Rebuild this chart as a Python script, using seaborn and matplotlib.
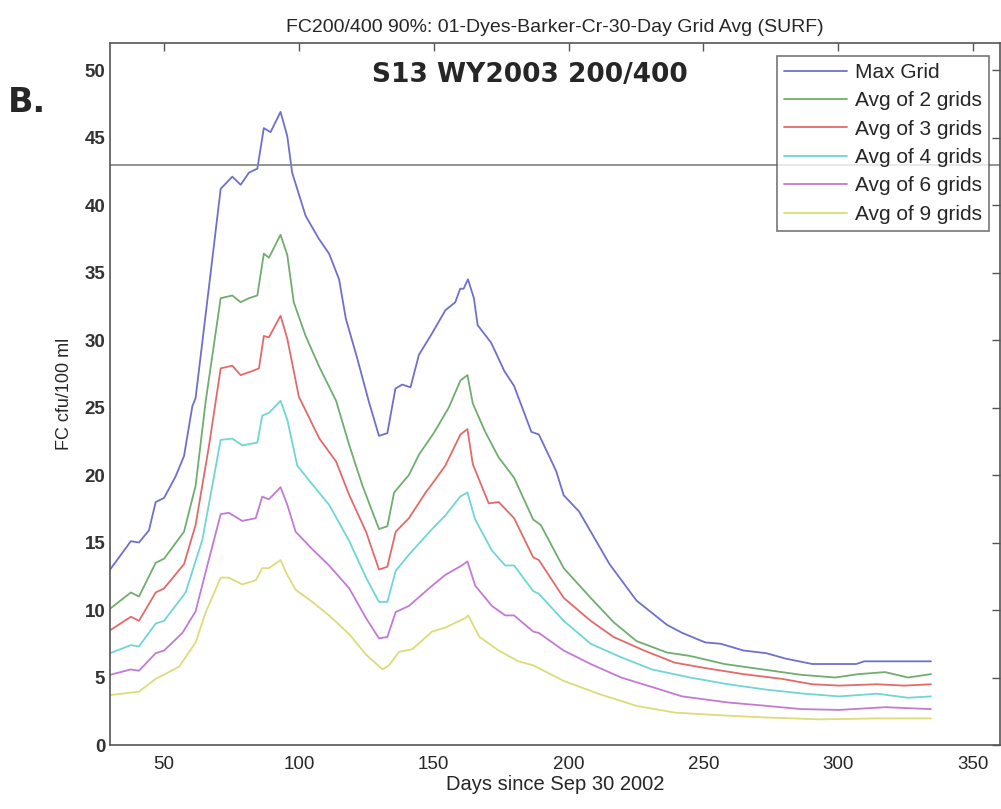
import matplotlib
matplotlib.use("Agg")
import matplotlib.pyplot as plt
import seaborn as sns
import pandas as pd

# --- data -------------------------------------------------------------------
SERIES = ["Max Grid", "Avg of 2 grids", "Avg of 3 grids",
          "Avg of 4 grids", "Avg of 6 grids", "Avg of 9 grids"]
COLORS = ["#6f6fcf", "#6fae6f", "#e46a6a", "#6fd6d6", "#c27ad6", "#dcdc78"]
THRESHOLD = 43

max_days = [30, 37.7, 40.7, 44.4, 46.9, 50, 54.3, 57.4, 60.5, 61.7, 66.7, 71, 75.3, 78.4,
            81.5, 84.6, 87, 89.5, 93.2, 95.7, 97.5, 102.5, 107.4, 111.2, 114.9, 117.4,
            121.7, 126, 129.7, 132.8, 135.8, 138.3, 141.4, 144.5, 149.4, 154.3, 158,
            159.8, 161.1, 162.7, 164.9, 166.3, 171.3, 176.2, 179.8, 186.2, 189, 195.4,
            198.2, 203.9, 215.2, 225.2, 236.5, 242.2, 250.7, 256.4, 264.9, 273.4,
            280.5, 290.4, 294.7, 306.7, 309.6, 334.4]
max_vals = [13.0, 15.1, 15.0, 15.9, 18.0, 18.3, 19.9, 21.4, 25.1, 25.7, 34.0, 41.2, 42.1,
            41.5, 42.4, 42.7, 45.7, 45.4, 46.9, 45.1, 42.4, 39.2, 37.5, 36.4, 34.5, 31.6,
            28.6, 25.4, 22.9, 23.1, 26.4, 26.7, 26.5, 28.9, 30.5, 32.2, 32.8, 33.8, 33.8,
            34.5, 33.1, 31.1, 29.8, 27.7, 26.6, 23.2, 23.0, 20.3, 18.5, 17.3, 13.4, 10.7,
            8.9, 8.3, 7.6, 7.5, 7.0, 6.8, 6.4, 6.0, 6.0, 6.0, 6.2, 6.2]

avg2_days = [30, 37.7, 40.7, 46.9, 50, 57.4, 61.7, 65.4, 71, 75.3, 78.4, 81.5, 84.6, 87,
             88.9, 93.2, 95.7, 98.1, 102.5, 107.6, 113.8, 118.7, 123.6, 129.7, 132.8,
             135.3, 140.8, 144.5, 150, 155.6, 159.9, 162.5, 164.5, 169.1, 174.1, 179.8,
             186.9, 189.7, 198.2, 208.2, 216.7, 225.2, 236.5, 245, 257.8, 272, 286.2,
             298.9, 307.4, 317.4, 325.9, 334.4]
avg2_vals = [10.1, 11.3, 11.0, 13.5, 13.8, 15.8, 19.2, 25.4, 33.1, 33.3, 32.8, 33.1, 33.3,
             36.4, 36.1, 37.8, 36.3, 32.8, 30.3, 28.0, 25.5, 22.2, 19.2, 16.0, 16.2, 18.7,
             20.0, 21.5, 23.1, 25.0, 27.0, 27.4, 25.3, 23.2, 21.3, 19.8, 16.7, 16.3, 13.1,
             10.9, 9.1, 7.7, 6.85, 6.6, 6.0, 5.6, 5.2, 5.0, 5.25, 5.4, 5.0, 5.25]

avg3_days = [30, 37.7, 40.7, 46.9, 50, 57.4, 61.7, 66.7, 71, 75.3, 78.4, 82.7, 85.2, 87,
             88.9, 93.2, 95.7, 100, 107.6, 113.8, 118.7, 124.9, 129.7, 132.8, 135.9,
             140.8, 147, 150, 154.3, 159.9, 162.5, 164.5, 170.4, 174.1, 179.8, 186.9, 189,
             198.2, 208.2, 216.7, 228, 239.4, 250.7, 264.9, 279.1, 290.4, 300.4, 314.5,
             324.5, 334.4]
avg3_vals = [8.5, 9.5, 9.2, 11.3, 11.6, 13.4, 16.3, 22.2, 27.9, 28.1, 27.4, 27.7, 27.9,
             30.3, 30.2, 31.8, 30.1, 25.8, 22.7, 21.0, 18.5, 15.8, 13.0, 13.2, 15.8, 16.8,
             18.7, 19.5, 20.7, 23.0, 23.4, 20.8, 17.9, 18.0, 16.8, 13.9, 13.7, 10.9, 9.2,
             8.0, 7.0, 6.1, 5.7, 5.25, 4.9, 4.5, 4.4, 4.5, 4.4, 4.5]

avg4_days = [30, 37.7, 40.7, 46.9, 50, 58, 64.2, 71, 75.3, 79, 84.6, 86.4, 88.9, 93.2,
             95.7, 99.4, 105, 111.2, 118.7, 124.9, 129.7, 132.8, 135.9, 140.8, 149.4,
             154.3, 159.8, 162.5, 165.4, 171.6, 176.5, 179.8, 186.9, 189, 198.2, 208.2,
             219.5, 230.9, 245, 259.2, 273.4, 287.6, 300.4, 314.5, 325.9, 334.4]
avg4_vals = [6.8, 7.4, 7.3, 9.0, 9.2, 11.3, 15.2, 22.6, 22.7, 22.2, 22.4, 24.4, 24.6, 25.5,
             24.1, 20.7, 19.3, 17.8, 15.1, 12.4, 10.6, 10.6, 12.9, 14.1, 16.0, 17.0, 18.4,
             18.7, 16.7, 14.4, 13.3, 13.3, 11.4, 11.2, 9.2, 7.5, 6.5, 5.6, 5.0, 4.5, 4.1,
             3.8, 3.6, 3.8, 3.5, 3.6]

avg6_days = [30, 37.7, 40.7, 46.9, 50, 56.8, 61.7, 65.4, 71, 74, 79, 84, 86.4, 88.9, 93.2,
             95.7, 98.8, 105, 111.2, 118.7, 124.9, 129.7, 132.8, 135.9, 140.8, 149.4,
             154.3, 160.4, 162.5, 165.4, 171.6, 176.5, 179.8, 186.9, 189, 198.2, 208.2,
             219.5, 230.9, 242.2, 259.2, 273.4, 286.2, 300.4, 317.4, 334.4]
avg6_vals = [5.2, 5.6, 5.5, 6.8, 7.0, 8.3, 9.9, 12.8, 17.1, 17.2, 16.6, 16.8, 18.4, 18.2,
             19.1, 17.8, 15.8, 14.5, 13.3, 11.6, 9.4, 7.9, 8.0, 9.85, 10.3, 11.8, 12.6,
             13.3, 13.6, 11.8, 10.3, 9.6, 9.6, 8.4, 8.3, 7.0, 6.0, 5.0, 4.3, 3.6, 3.15,
             2.9, 2.66, 2.6, 2.8, 2.66]

avg9_days = [30, 40.7, 46.9, 55.6, 61.7, 65.4, 71, 74, 79, 84, 86.4, 88.9, 93.2, 95.7,
             98.8, 105, 111.2, 118.7, 124.9, 131, 133.4, 137.1, 142.1, 149.4, 154.3,
             161.7, 162.8, 167, 174.1, 181.4, 186.9, 198.2, 211, 225.2, 239.4, 259.2,
             273.4, 293.3, 314.5, 334.4]
avg9_vals = [3.7, 3.95, 4.9, 5.8, 7.6, 9.8, 12.4, 12.4, 11.9, 12.2, 13.1, 13.1, 13.7, 12.6,
             11.5, 10.6, 9.6, 8.2, 6.7, 5.6, 5.9, 6.9, 7.1, 8.4, 8.7, 9.4, 9.6, 8.0, 7.0,
             6.2, 5.9, 4.75, 3.8, 2.9, 2.4, 2.17, 2.04, 1.9, 1.97, 1.97]

DAYS = [max_days, avg2_days, avg3_days, avg4_days, avg6_days, avg9_days]
VALS = [max_vals, avg2_vals, avg3_vals, avg4_vals, avg6_vals, avg9_vals]

df = pd.concat([pd.DataFrame({"day": d, "fc": v, "series": s})
                for s, d, v in zip(SERIES, DAYS, VALS)], ignore_index=True)

# --- style (MATLAB-like box, inward ticks) -----------------------------------
sns.set_style("white", {"xtick.direction": "in", "ytick.direction": "in",
                        "axes.edgecolor": "#555555"})
plt.rcParams["font.family"] = ["Liberation Sans", "DejaVu Sans"]

fig = plt.figure(figsize=(10.01, 8.09), dpi=100)
ax = fig.add_axes([0.110, 0.0791, 0.889, 0.8677])

sns.lineplot(data=df, x="day", y="fc", hue="series", hue_order=SERIES,
             palette=COLORS, estimator=None, sort=False, lw=1.3, ax=ax)
ax.axhline(THRESHOLD, color="#8a8a8a", lw=1.3)

ax.set_xlim(30, 360)
ax.set_ylim(0, 52)
ax.set_xticks(range(50, 351, 50))
ax.set_yticks(range(0, 51, 5))
ax.tick_params(axis="both", which="both", direction="in", length=6, width=1,
               color="#555555", top=True, right=True, labelsize=13.5)
ax.tick_params(axis="x", pad=8)
for lab in ax.get_yticklabels():
    lab.set_fontweight("bold")
    lab.set_color("#333333")
for sp in ax.spines.values():
    sp.set_linewidth(1.2)

ax.set_xlabel("Days since Sep 30 2002", fontsize=14.5, labelpad=1)
ax.set_ylabel("FC cfu/100 ml", fontsize=13, labelpad=8)
ax.set_title("FC200/400 90%: 01-Dyes-Barker-Cr-30-Day Grid Avg (SURF)",
             fontsize=14, pad=8)

ax.text(127, 49.6, "S13 WY2003 200/400", fontsize=19, fontweight="bold",
        family="DejaVu Sans", va="center", ha="left")
fig.text(0.008, 0.873, "B.", fontsize=24, fontweight="bold",
         family="DejaVu Sans", va="center", ha="left")

handles, labels = ax.get_legend_handles_labels()
leg = ax.legend(handles, labels, loc="upper right", bbox_to_anchor=(0.988, 0.982),
                borderaxespad=0, fontsize=15, handlelength=3.0, labelspacing=0.45,
                frameon=True, fancybox=False, borderpad=0.35, handletextpad=0.4)
leg.get_frame().set_edgecolor("#555555")
leg.get_frame().set_linewidth(1.2)

plt.savefig("out.png", dpi=100)
plt.close()
